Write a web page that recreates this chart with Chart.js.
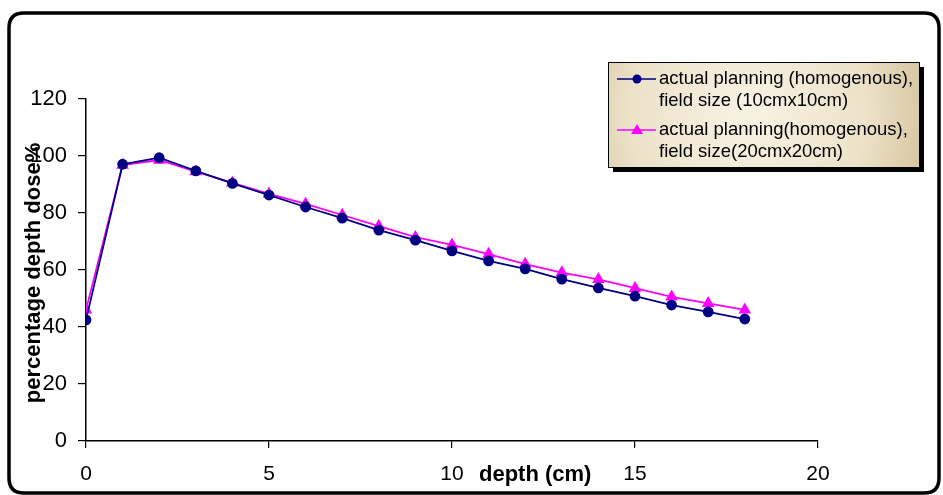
<!DOCTYPE html>
<html>
<head>
<meta charset="utf-8">
<script src="https://cdn.jsdelivr.net/npm/chart.js@4"></script>
<style>
  html, body { margin: 0; padding: 0; background: #fff; }
  #wrap { width: 943px; height: 495px; }
</style>
</head>
<body>
<div id="wrap"><canvas id="myChart" width="943" height="495"></canvas></div>
<script>
// values
var depth = [0, 1, 2, 3, 4, 5, 6, 7, 8, 9, 10, 11, 12, 13, 14, 15, 16, 17, 18]
var dose10 = [42.5, 97.1, 99.4, 94.8, 90.4, 86.3, 82.1, 78.2, 74.0, 70.5, 66.7, 63.2, 60.4, 56.8, 53.7, 50.8, 47.7, 45.3, 42.8]
var dose20 = [46.0, 96.8, 98.6, 94.5, 90.6, 86.7, 83.2, 79.3, 75.4, 71.5, 68.8, 65.6, 62.1, 59.1, 56.7, 53.6, 50.6, 48.3, 46.0]
var label10 = ['actual planning (homogenous),', 'field size (10cmx10cm)']
var label20 = ['actual planning(homogenous),', 'field size(20cmx20cm)']
var xTicks = [0, 5, 10, 15, 20]
var yTicks = [0, 20, 40, 60, 80, 100, 120]
var xTitle = 'depth (cm)'
var yTitle = 'percentage depth dose%'

function pts(xs, ys){
  return xs.map(function(x, i){ return {x: x, y: ys[i]} })
}

var font = 'Arial, "Liberation Sans", sans-serif'

function roundRect(ctx, x, y, w, h, r){
  ctx.beginPath()
  ctx.moveTo(x + r, y)
  ctx.lineTo(x + w - r, y)
  ctx.quadraticCurveTo(x + w, y, x + w, y + r)
  ctx.lineTo(x + w, y + h - r)
  ctx.quadraticCurveTo(x + w, y + h, x + w - r, y + h)
  ctx.lineTo(x + r, y + h)
  ctx.quadraticCurveTo(x, y + h, x, y + h - r)
  ctx.lineTo(x, y + r)
  ctx.quadraticCurveTo(x, y, x + r, y)
  ctx.closePath()
}

var decor = {
  id: 'decor',
  afterDraw: function(chart){
    var ctx = chart.ctx
    ctx.save()
    // outer frame
    ctx.lineWidth = 3.5
    ctx.strokeStyle = '#000'
    roundRect(ctx, 9, 13, 930, 480, 15)
    ctx.stroke()

    // axis titles
    ctx.fillStyle = '#000'
    ctx.font = 'bold 22px ' + font
    ctx.textBaseline = 'middle'
    ctx.textAlign = 'left'
    ctx.fillText(xTitle, 479, 475)
    ctx.save()
    ctx.translate(34, 273)
    ctx.rotate(-Math.PI / 2)
    ctx.textAlign = 'center'
    ctx.fillText(yTitle, 0, 0)
    ctx.restore()

    // legend box
    var lx = 608, ly = 62, lw = 311, lh = 105
    ctx.fillStyle = '#000'
    ctx.fillRect(lx + 5, ly + 5, lw, lh)
    var g = ctx.createRadialGradient(lx + lw * 0.45, ly + lh * 0.5, 10, lx + lw * 0.45, ly + lh * 0.5, lw * 0.62)
    g.addColorStop(0, '#f7f1e2')
    g.addColorStop(0.6, '#ece2c9')
    g.addColorStop(1, '#d2bf97')
    ctx.fillStyle = g
    ctx.fillRect(lx, ly, lw, lh)
    ctx.lineWidth = 1
    ctx.strokeStyle = '#000'
    ctx.strokeRect(lx + 0.5, ly + 0.5, lw, lh)

    var items = [
      {ds: chart.data.datasets[0], text: label10, y: ly + 17},
      {ds: chart.data.datasets[1], text: label20, y: ly + 68}
    ]
    ctx.font = '18.5px ' + font
    items.forEach(function(it){
      ctx.strokeStyle = it.ds.borderColor
      ctx.lineWidth = 1.5
      ctx.beginPath()
      ctx.moveTo(lx + 9, it.y)
      ctx.lineTo(lx + 48, it.y)
      ctx.stroke()
      ctx.fillStyle = it.ds.pointBackgroundColor
      ctx.beginPath()
      if(it.ds.pointStyle == 'triangle'){
        ctx.moveTo(lx + 29, it.y - 6)
        ctx.lineTo(lx + 35, it.y + 4)
        ctx.lineTo(lx + 23, it.y + 4)
        ctx.closePath()
      } else {
        ctx.arc(lx + 29, it.y, 4.5, 0, Math.PI * 2)
      }
      ctx.fill()
      ctx.fillStyle = '#000'
      ctx.textAlign = 'left'
      ctx.fillText(it.text[0], lx + 51, it.y)
      ctx.fillText(it.text[1], lx + 51, it.y + 22)
    })
    ctx.restore()
  }
}

var ctx = document.getElementById('myChart').getContext('2d')
var myChart = new Chart(ctx, {
  type: 'scatter',
  data: {
    datasets: [{
      type: 'line',
      label: label10.join(' '),
      data: pts(depth, dose10),
      borderColor: '#000080',
      backgroundColor: '#000080',
      pointBackgroundColor: '#000080',
      pointBorderColor: '#000080',
      pointStyle: 'circle',
      pointRadius: 4.5,
      borderWidth: 1.8,
      tension: 0,
      fill: false
    },
    {
      type: 'line',
      label: label20.join(' '),
      data: pts(depth, dose20),
      borderColor: '#ff00ff',
      backgroundColor: '#ff00ff',
      pointBackgroundColor: '#ff00ff',
      pointBorderColor: '#ff00ff',
      pointStyle: 'triangle',
      pointRadius: 5.5,
      borderWidth: 1.8,
      tension: 0,
      fill: false
    }]
  },
  options: {
    responsive: false,
    animation: false,
    layout: { padding: { left: 0, top: 99, right: 125, bottom: 0 } },
    plugins: { legend: { display: false }, tooltip: { enabled: false } },
    scales: {
      x: {
        type: 'linear',
        min: 0,
        max: 20,
        afterBuildTicks: function(s){ s.ticks = xTicks.map(function(v){ return {value: v} }) },
        afterFit: function(s){ s.height = 54 },
        grid: { drawOnChartArea: false, drawTicks: true, tickLength: 7, color: '#000', lineWidth: 1.2 },
        border: { display: true, color: '#000', width: 1.5 },
        ticks: { color: '#000', font: { family: font, size: 21 }, padding: 14, maxRotation: 0 }
      },
      y: {
        type: 'linear',
        min: 0,
        max: 120,
        afterBuildTicks: function(s){ s.ticks = yTicks.map(function(v){ return {value: v} }) },
        afterFit: function(s){ s.width = 86 },
        grid: { drawOnChartArea: false, drawTicks: true, tickLength: 8, color: '#000', lineWidth: 1.2 },
        border: { display: true, color: '#000', width: 1.5 },
        ticks: { color: '#000', font: { family: font, size: 22 }, padding: 11 }
      }
    }
  },
  plugins: [decor]
})
</script>
</body>
</html>
